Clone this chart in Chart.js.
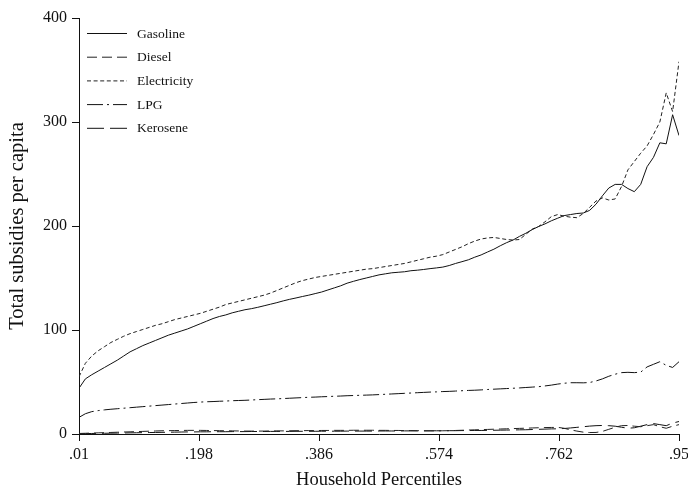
<!DOCTYPE html>
<html>
<head>
<meta charset="utf-8">
<script src="https://cdn.jsdelivr.net/npm/chart.js@4/dist/chart.umd.min.js"></script>
<style>
  html, body { margin: 0; padding: 0; background: #fff; }
  #wrap { width: 688px; height: 489px; }
</style>
</head>
<body>
<div id="wrap"><canvas id="c" width="688" height="489"></canvas></div>
<script>
// Household percentiles (x values)
const percentiles = [
  .01,.02,.03,.04,.05,.06,.07,.08,.09,.10,
  .11,.12,.13,.14,.15,.16,.17,.18,.19,.20,
  .21,.22,.23,.24,.25,.26,.27,.28,.29,.30,
  .31,.32,.33,.34,.35,.36,.37,.38,.39,.40,
  .41,.42,.43,.44,.45,.46,.47,.48,.49,.50,
  .51,.52,.53,.54,.55,.56,.57,.58,.59,.60,
  .61,.62,.63,.64,.65,.66,.67,.68,.69,.70,
  .71,.72,.73,.74,.75,.76,.77,.78,.79,.80,
  .81,.82,.83,.84,.85,.86,.87,.88,.89,.90,
  .91,.92,.93,.94,.95
];

// Total subsidies per capita, by fuel
const gasoline = [
  44,53,57,60.5,64,67.5,71,75,79,82,
  85,87.5,90,92.5,95,97,99,101,103.5,106,
  108.5,111,113,114.5,116.5,118,119.5,120.5,121.8,123.3,
  124.8,126.3,128,129.5,130.8,132.2,133.5,135,136.5,138.5,
  140.5,142.5,145,146.8,148.5,150,151.5,153,154,155,
  155.5,156,157,157.5,158.2,159,159.7,160.5,162,164,
  165.7,167.5,170,172.2,175,177.7,181,184,186.5,190,
  193,196.5,199.5,202,205,207.5,210,211,212,212.5,
  215,221,229,236.5,240,240,236,233,240,257,
  266,280,279,307,287
];
const diesel = [
  0.5,0.7,0.9,1.1,1.3,1.5,1.7,1.9,2.1,2.3,
  2.5,2.7,2.9,3.1,3.2,3.3,3.4,3.5,3.5,3.5,
  3.4,3.3,3.2,3.1,3.0,2.9,2.8,2.8,2.8,2.8,
  2.9,3.0,3.0,3.1,3.2,3.2,3.3,3.3,3.4,3.4,
  3.5,3.5,3.5,3.6,3.6,3.6,3.6,3.5,3.5,3.4,
  3.4,3.3,3.3,3.2,3.1,3.0,3.0,3.1,3.2,3.4,
  3.6,3.8,4.0,4.2,4.4,4.6,4.8,5.0,5.2,5.4,
  5.6,5.8,6.0,6.2,6.3,6.4,5.5,4.0,2.8,1.8,
  1.4,1.5,2.5,4.5,6.5,8.0,8.2,7.5,7.0,8.0,
  9.0,7.0,5.5,7.5,9.0
];
const electricity = [
  55,68,75,80,84,88,91,94,96.5,98.5,
  100.5,102.5,104.5,106,108,110,111.5,113,114.5,116,
  118,120,122,124.5,126,127.5,129,130.5,132,133.5,
  135.5,138,140.5,143,145.5,147.5,149,150.5,151.5,152.5,
  153.5,154.5,155.5,156.5,157.5,158.5,159,160,161,162,
  163,164,165.5,167,168.5,170,171,172.5,175,177.5,
  180,183,185.5,187.5,188.5,189,188,187,186.5,187,
  192,197,199.5,204,209,211,209.5,208.5,208,212,
  218,224,227,225,226,238,254,262,270,277,
  288,300,328,310,358
];
const lpg = [
  16,19.5,21.5,22.5,23.2,23.8,24.3,24.8,25.3,25.8,
  26.3,26.8,27.3,27.8,28.3,28.8,29.3,29.8,30.3,30.7,
  31,31.2,31.5,31.7,32,32.2,32.4,32.7,33,33.3,
  33.6,33.8,34.1,34.4,34.7,35,35.3,35.5,35.8,36,
  36.3,36.5,36.8,37,37.2,37.4,37.6,37.9,38.2,38.5,
  38.8,39.1,39.4,39.7,40,40.3,40.5,40.8,41,41.3,
  41.6,41.9,42.1,42.4,42.8,43.1,43.4,43.7,44,44.3,
  44.7,45.1,45.5,46.2,47,48,48.8,49.3,49.3,49.2,
  49.5,51,53,55.5,57.5,59,59.3,59,59.5,64.5,
  67,69.5,66,64,69.5
];
const kerosene = [
  0.3,0.4,0.5,0.6,0.7,0.8,0.9,1.0,1.1,1.2,
  1.3,1.4,1.5,1.6,1.7,1.8,1.9,2.0,2.0,2.1,
  2.1,2.2,2.2,2.2,2.3,2.3,2.3,2.4,2.4,2.4,
  2.5,2.5,2.5,2.5,2.6,2.6,2.6,2.6,2.7,2.7,
  2.7,2.7,2.8,2.8,2.8,2.8,2.8,2.9,2.9,2.9,
  2.9,3.0,3.0,3.0,3.0,3.1,3.1,3.1,3.2,3.2,
  3.3,3.3,3.4,3.4,3.5,3.6,3.7,3.8,3.9,4.0,
  4.1,4.3,4.5,4.7,4.9,5.0,5.3,5.8,6.4,7.0,
  7.6,8.0,8.2,8.0,7.5,6.5,5.5,6.0,7.5,9.0,
  10.0,9.0,8.0,10.5,12.0
];

// Axis ticks
const xTickValues = [.01, .198, .386, .574, .762, .95];
const xTickLabels = ['.01', '.198', '.386', '.574', '.762', '.95'];
const yTickValues = [0, 100, 200, 300, 400];

const seriesNames = ['Gasoline', 'Diesel', 'Electricity', 'LPG', 'Kerosene'];
const seriesValues = [gasoline, diesel, electricity, lpg, kerosene];
const seriesDashes = [[], [10, 5], [4, 2.6], [16, 4, 2, 4], [17, 6]];
const seriesColors = ['#111', '#222', '#222', '#111', '#111'];

const SERIF = '"Liberation Serif", "Times New Roman", serif';

const datasets = seriesNames.map((name, i) => ({
  label: name,
  data: percentiles.map((p, j) => ({ x: p, y: seriesValues[i][j] })),
  borderColor: seriesColors[i],
  borderWidth: 1,
  borderDash: seriesDashes[i],
  pointRadius: 0,
  tension: 0,
  fill: false
}));

// Legend drawn inside the plot area, top left, one row per series
const insideLegend = {
  id: 'insideLegend',
  afterDatasetsDraw(chart) {
    const { ctx, chartArea } = chart;
    ctx.save();
    ctx.font = '13.5px ' + SERIF;
    ctx.fillStyle = '#111';
    ctx.textBaseline = 'middle';
    chart.data.datasets.forEach((ds, i) => {
      const y = chartArea.top + 15 + i * 23.7;
      const x0 = chartArea.left + 8;
      ctx.beginPath();
      ctx.setLineDash(ds.borderDash || []);
      ctx.strokeStyle = ds.borderColor;
      ctx.lineWidth = 1;
      ctx.moveTo(x0, y + 0.5);
      ctx.lineTo(x0 + 40, y + 0.5);
      ctx.stroke();
      ctx.setLineDash([]);
      ctx.fillText(ds.label, x0 + 50, y + 1);
    });
    ctx.restore();
  }
};

new Chart(document.getElementById('c'), {
  type: 'line',
  data: { datasets },
  options: {
    responsive: false,
    animation: false,
    devicePixelRatio: 1,
    layout: { padding: { top: 18, right: 9, left: 0, bottom: 0 } },
    plugins: { legend: { display: false }, tooltip: { enabled: false } },
    scales: {
      x: {
        type: 'linear',
        min: .01,
        max: .95,
        afterBuildTicks(scale) { scale.ticks = xTickValues.map(v => ({ value: v })); },
        afterFit(scale) { scale.height = 55; scale.paddingLeft = 0; scale.paddingRight = 0; },
        ticks: {
          autoSkip: false,
          maxRotation: 0,
          padding: 4,
          color: '#111',
          font: { family: SERIF, size: 16 },
          callback(value) {
            const k = xTickValues.findIndex(v => Math.abs(v - value) < 1e-9);
            return k >= 0 ? xTickLabels[k] : '';
          }
        },
        grid: { display: true, drawOnChartArea: false, drawTicks: true, tickLength: 7, color: '#111', lineWidth: 1 },
        border: { display: true, color: '#111', width: 1 },
        title: {
          display: true,
          text: 'Household Percentiles',
          color: '#111',
          font: { family: SERIF, size: 18.5, lineHeight: 1 },
          padding: { top: 0, bottom: 0 }
        }
      },
      y: {
        type: 'linear',
        min: 0,
        max: 400,
        afterBuildTicks(scale) { scale.ticks = yTickValues.map(v => ({ value: v })); },
        afterFit(scale) { scale.width = 79; scale.paddingTop = 0; scale.paddingBottom = 0; },
        ticks: {
          padding: 5,
          color: '#111',
          font: { family: SERIF, size: 16 }
        },
        grid: { display: true, drawOnChartArea: false, drawTicks: true, tickLength: 7, color: '#111', lineWidth: 1 },
        border: { display: true, color: '#111', width: 1 },
        title: {
          display: true,
          text: 'Total subsidies per capita',
          color: '#111',
          font: { family: SERIF, size: 20.5, lineHeight: 1 },
          padding: { top: 7.5, bottom: 0 }
        }
      }
    }
  },
  plugins: [insideLegend]
});
</script>
</body>
</html>
